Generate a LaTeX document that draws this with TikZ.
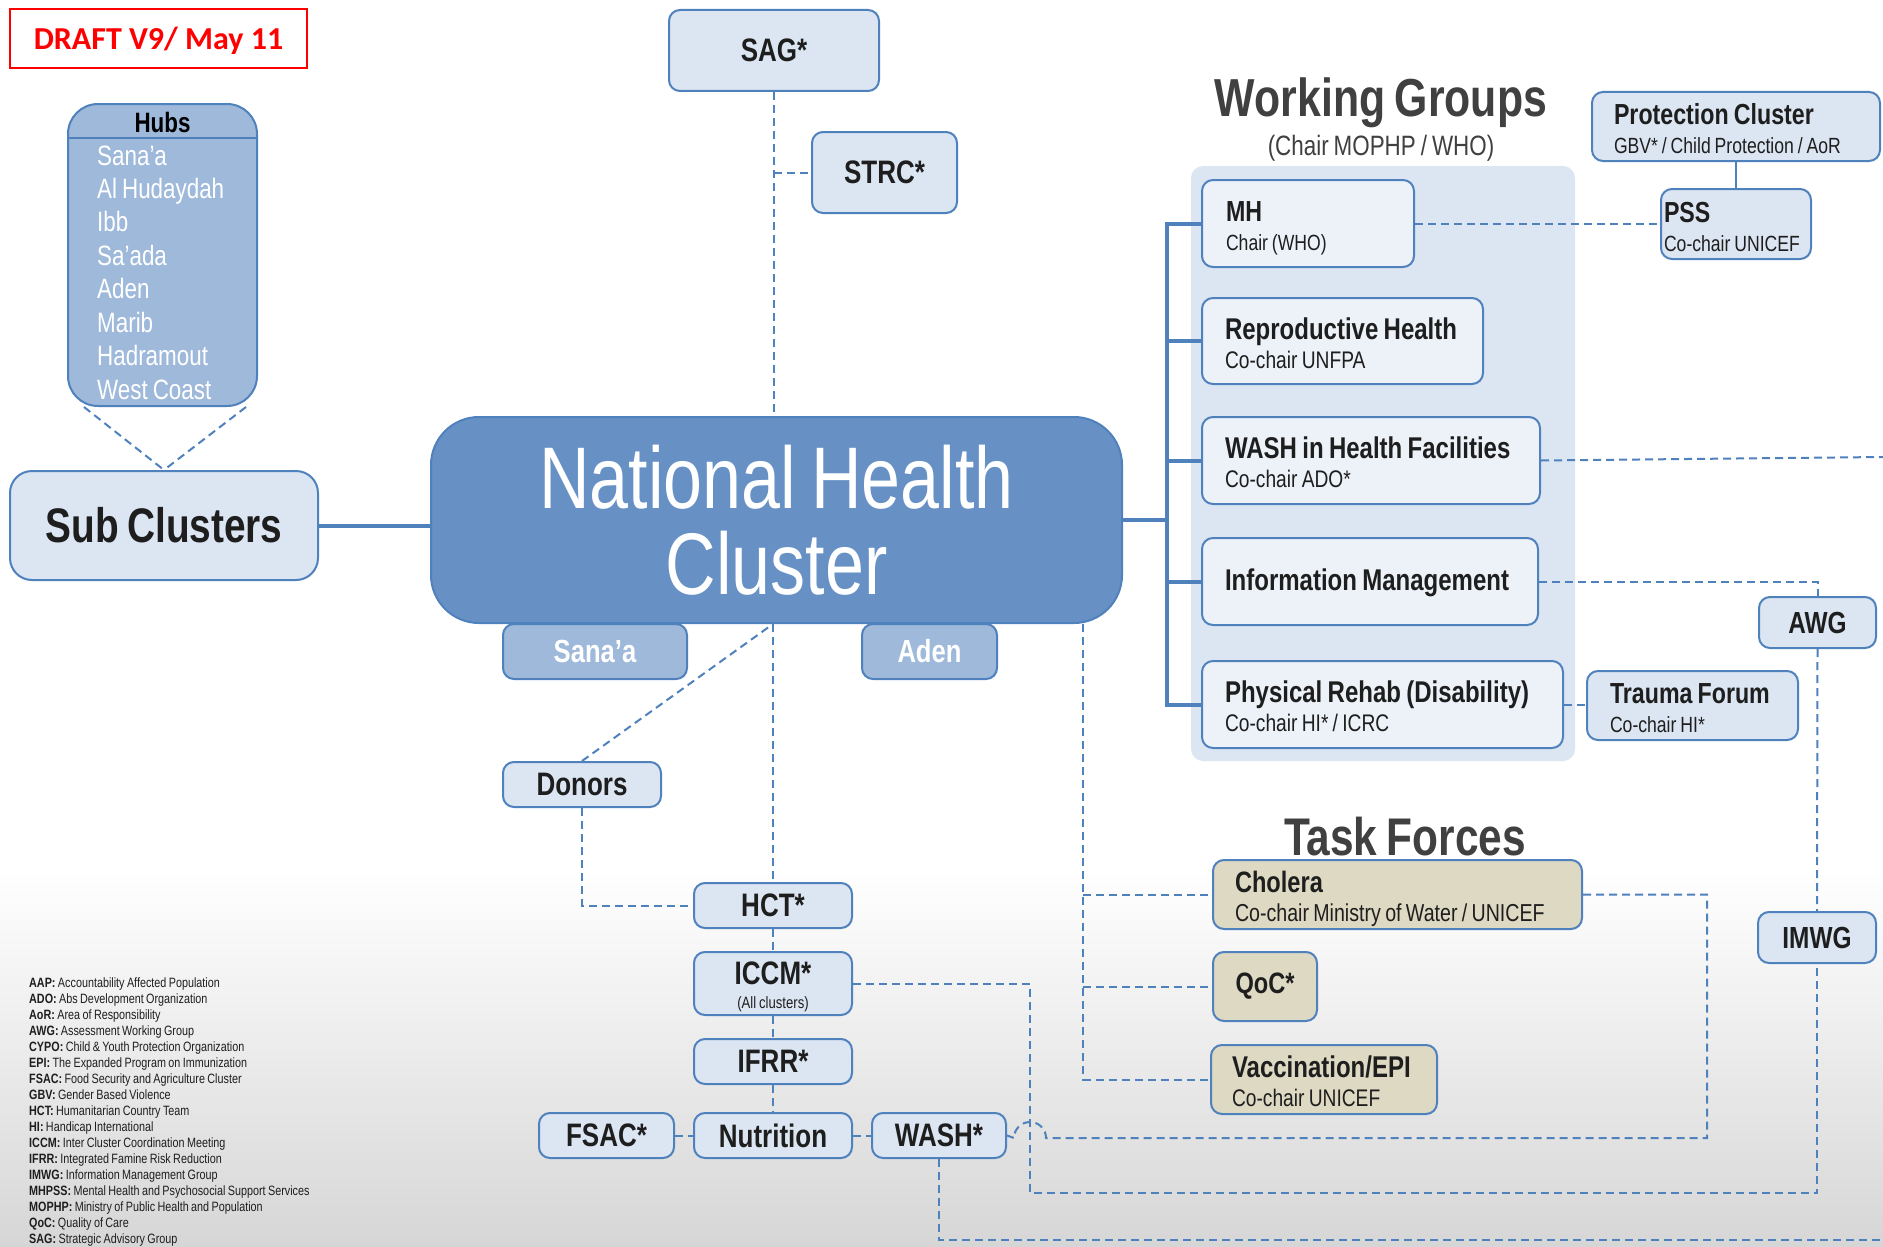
\documentclass[tikz,border=0pt]{standalone}
\usepackage{fontspec}
\setmainfont{Liberation Sans}[FakeStretch=0.8,WordSpace=0.8]
\newfontfamily\draftfont{Carlito}
\pgfdeclarelayer{back}
\pgfdeclarelayer{lines}
\pgfsetlayers{back,lines,main}
\definecolor{bordc}{HTML}{4F81BD}
\definecolor{lightf}{HTML}{DCE6F2}
\definecolor{panelc}{HTML}{DCE6F2}
\definecolor{wgbox}{HTML}{EDF2F9}
\definecolor{nhcf}{HTML}{6791C5}
\definecolor{midf}{HTML}{9FB9DB}
\definecolor{tanf}{HTML}{DDD9C3}
\definecolor{txt}{HTML}{1E1E1E}
\definecolor{ttl}{HTML}{404040}
\definecolor{graybot}{HTML}{D6D6D6}
\definecolor{draftred}{HTML}{FF0000}
\newcommand\nsp{\spaceskip=0pt\xspaceskip=0pt\relax}
\newcommand\two[4]{\mbox{\nsp\rule{0pt}{31.4pt}\fontsize{#1}{29}\selectfont\bfseries #3}\\\mbox{\nsp\rule[-6pt]{0pt}{6pt}\fontsize{#2}{29}\selectfont #4}}
\begin{document}
\begin{tikzpicture}[x=1pt,y=-1pt,
  box/.style={draw=bordc, line width=2pt, rounded corners=11pt, fill=lightf, inner sep=0pt, text=txt},
  wgb/.style={box, fill=wgbox, align=left},
  tfb/.style={box, fill=tanf, align=left},
  dl/.style={draw=bordc, line width=2pt, dash pattern=on 8pt off 5pt},
  sl/.style={draw=bordc, line width=4pt, line cap=rect},
  one/.style={font=\bfseries\fontsize{32.5}{34}\selectfont},
  onesm/.style={font=\bfseries\fontsize{30.5}{32}\selectfont},
]
\useasboundingbox (0,0) rectangle (1883,1247);

\begin{pgfonlayer}{back}
\fill[white] (0,0) rectangle (1883,1247);
\shade[top color=white, bottom color=graybot] (0,870) rectangle (1883,1247);
\node[fill=panelc, rounded corners=12pt, minimum width=384pt, minimum height=595pt, inner sep=0pt] (wgp) at (1383,463.5) {};
\end{pgfonlayer}

% ---------- left side ----------
\node[draw=draftred, line width=1.8pt, minimum width=297pt, minimum height=59pt, inner sep=0pt, text=draftred, text depth=0pt,
      font=\draftfont\bfseries\fontsize{32}{34}\selectfont] (draft) at (158.5,38.5) {DRAFT V9/ May 11};

\node[box, fill=midf, minimum width=189pt, minimum height=302pt, rounded corners=30pt] (hubs) at (162.5,255) {};
\draw[bordc, line width=1.5pt] (68,138) -- (258,138);
\node[inner sep=0pt, text=black, font=\bfseries\fontsize{28}{30}\selectfont] (hubst) at (162.5,122) {Hubs};
\foreach \t [count=\i] in {Sana’a, Al Hudaydah, Ibb, Sa’ada, Aden, Marib, Hadramout, West Coast}
  \node[anchor=base west, inner sep=0pt, text=white, font=\fontsize{28}{30}\selectfont] (hub\i) at (97,{165+33.43*(\i-1)}) {\t};

\node[box, minimum width=308pt, minimum height=109pt, rounded corners=22pt,
      font=\bfseries\fontsize{48.5}{50}\selectfont] (sub) at (164,525.5) {Sub Clusters};

% ---------- centre ----------
\node[box, minimum width=210pt, minimum height=81pt, one] (sag) at (774,50.5) {SAG*};
\node[box, minimum width=145pt, minimum height=81pt, one] (strc) at (884.5,172.5) {STRC*};

\node[box, fill=midf, minimum width=184pt, minimum height=55pt, text=white, font=\bfseries\fontsize{32}{34}\selectfont] (sanaa) at (595,651.5) {Sana’a};
\node[box, fill=midf, minimum width=135pt, minimum height=55pt, text=white, font=\bfseries\fontsize{32}{34}\selectfont] (aden) at (929.5,651.5) {Aden};

\node[box, fill=nhcf, minimum width=691pt, minimum height=206pt, rounded corners=48pt, text=white, align=center,
      font=\fontsize{87.5}{86}\selectfont] (nhc) at (776.5,520) {National Health\\Cluster};

\node[box, minimum width=158pt, minimum height=45pt, one] (donors) at (582,784.5) {Donors};
\node[box, minimum width=158pt, minimum height=45pt, one] (hct) at (773,905.5) {HCT*};
\node[box, minimum width=158pt, minimum height=63pt, align=center, font=\fontsize{16.4}{24}\selectfont] (iccm) at (773,983.5)
  {\mbox{\rule{0pt}{29pt}\bfseries\fontsize{32.5}{24}\selectfont ICCM*}\\(All clusters)};
\node[box, minimum width=158pt, minimum height=45pt, one] (ifrr) at (773,1061.5) {IFRR*};
\node[box, minimum width=158pt, minimum height=45pt, one] (nutr) at (773,1135.5) {Nutrition};
\node[box, minimum width=135pt, minimum height=45pt, one] (fsac) at (606.5,1135.5) {FSAC*};
\node[box, minimum width=134pt, minimum height=45pt, one] (wash) at (939,1135.5) {WASH*};

% ---------- working groups ----------
\node[anchor=base, inner sep=0pt, text=ttl, font=\bfseries\fontsize{53.5}{54}\selectfont] (wgt) at (1381,117) {Working Groups};
\node[anchor=base, inner sep=0pt, text=ttl, font=\fontsize{28}{30}\selectfont] (wgs) at (1381,155) {(Chair MOPHP / WHO)};

\node[wgb, minimum width=212pt, minimum height=87pt, text width=164pt, font=\fontsize{22}{29}\selectfont] (mh) at (1308,223.5)
  {\two{29}{22}{MH}{Chair (WHO)}};
\node[wgb, minimum width=281pt, minimum height=86pt, text width=235pt, font=\fontsize{24}{29}\selectfont] (rh) at (1342.5,341)
  {\two{30}{24}{Reproductive Health}{Co-chair UNFPA}};
\node[wgb, minimum width=338pt, minimum height=87pt, text width=292pt, font=\fontsize{24}{29}\selectfont] (whf) at (1371,460.5)
  {\two{30}{24}{WASH in Health Facilities}{Co-chair ADO*}};
\node[wgb, minimum width=336pt, minimum height=87pt, text width=290pt, font=\fontsize{24}{29}\selectfont] (im) at (1370,581.5)
  {\mbox{\nsp\rule{0pt}{25pt}\bfseries\fontsize{30}{29}\selectfont Information Management}};
\node[wgb, minimum width=361pt, minimum height=87pt, text width=315pt, font=\fontsize{24}{29}\selectfont] (pr) at (1382.5,704.5)
  {\two{30}{24}{Physical Rehab (Disability)}{Co-chair HI* / ICRC}};

\node[box, align=left, minimum width=288pt, minimum height=69pt, text width=244pt, font=\fontsize{22}{29}\selectfont] (prot) at (1736,126.5)
  {\two{29}{22}{Protection Cluster}{GBV* / Child Protection / AoR}};
\node[box, align=left, minimum width=150pt, minimum height=70pt, text width=144pt, font=\fontsize{22}{29}\selectfont] (pss) at (1736,224)
  {\two{29}{22}{PSS}{Co-chair UNICEF}};
\node[box, minimum width=117pt, minimum height=51pt, onesm] (awg) at (1817.5,622.5) {AWG};
\node[box, minimum width=118pt, minimum height=51pt, onesm] (imwg) at (1817,937.5) {IMWG};
\node[box, align=left, minimum width=211pt, minimum height=69pt, text width=165pt, font=\fontsize{22}{29}\selectfont] (tf) at (1692.5,705.5)
  {\two{29}{22}{Trauma Forum}{Co-chair HI*}};

% ---------- task forces ----------
\node[anchor=base, inner sep=0pt, text=ttl, font=\bfseries\fontsize{53}{54}\selectfont] (tft) at (1405,855) {Task Forces};
\node[tfb, minimum width=369pt, minimum height=69pt, text width=325pt, font=\fontsize{24.5}{29}\selectfont] (cholera) at (1397.5,894.5)
  {\two{29.5}{24.5}{Cholera}{Co-chair Ministry of Water / UNICEF}};
\node[tfb, minimum width=104pt, minimum height=69pt, align=center, font=\bfseries\fontsize{29.5}{31}\selectfont] (qoc) at (1265,986.5) {QoC*};
\node[tfb, minimum width=226pt, minimum height=69pt, text width=184pt, font=\fontsize{24}{29}\selectfont] (vacc) at (1324,1079.5)
  {\two{30}{24}{Vaccination/EPI}{Co-chair UNICEF}};

% ---------- legend ----------
\foreach \a/\b [count=\i] in {AAP/Accountability Affected Population, ADO/Abs Development Organization, AoR/Area of Responsibility,
  AWG/Assessment Working Group, CYPO/Child \& Youth Protection Organization, EPI/The Expanded Program on Immunization,
  FSAC/Food Security and Agriculture Cluster, GBV/Gender Based Violence, HCT/Humanitarian Country Team, HI/Handicap International,
  ICCM/Inter Cluster Coordination Meeting, IFRR/Integrated Famine Risk Reduction, IMWG/Information Management Group,
  MHPSS/Mental Health and Psychosocial Support Services, MOPHP/Ministry of Public Health and Population, QoC/Quality of Care,
  SAG/Strategic Advisory Group}
  \node[anchor=base west, inner sep=0pt, text=txt, font=\fontsize{13.5}{15}\selectfont] (leg\i) at (29,{987+16*(\i-1)}) {\textbf{\a:} \b};

% ---------- connectors ----------
\coordinate (barx) at (1167,0);
\coordinate (tfx) at (1083,0);
\coordinate (edgeA) at (1883,457);
\coordinate (jA) at (1030,1193);
\coordinate (jB) at (1707,1138);
\coordinate (jC) at (1046,1138);
\coordinate (edgeB) at (1883,1240);
\begin{pgfonlayer}{lines}
\draw[dl] ([xshift=17pt]hubs.south west) -- (sub.north);
\draw[dl] ([xshift=-12pt]hubs.south east) -- (sub.north);
\draw[sl] (sub.east) -- (sub.east -| nhc.west);
\draw[sl] (nhc.east) -- (nhc.east -| barx);
\draw[sl] (barx |- mh.west) -- (barx |- pr.west);
\foreach \n in {mh,rh,whf,im,pr} \draw[sl] (barx |- \n.west) -- (\n.west);

\draw[dl] (sag.south) -- (sag.south |- nhc.north);
\draw[dl] (sag.south |- strc.west) -- (strc.west);
\draw[dl] (hct.north |- nhc.south) -- (hct.north);
\draw[dl] (donors.north) -- (hct.north |- nhc.south);
\draw[dl] (donors.south) |- (hct.west);
\draw[dl] (hct.south) -- (iccm.north);
\draw[dl] (iccm.south) -- (ifrr.north);
\draw[dl] (ifrr.south) -- (nutr.north);
\draw[dl] (fsac.east) -- (nutr.west);
\draw[dl] (nutr.east) -- (wash.west);

\draw[dl] (tfx |- nhc.south) |- (vacc.west);
\draw[dl] (tfx |- cholera.west) -- (cholera.west);
\draw[dl] (tfx |- qoc.west) -- (qoc.west);

\draw[dl] (mh.east) -- (mh.east -| pss.west);
\draw[bordc, line width=2pt] (prot.south) -- (pss.north);
\draw[dl] (whf.east) -- (edgeA);
\draw[dl] (im.east) -| (awg.north);
\draw[dl] (awg.south) -- (imwg.north);
\draw[dl] (pr.east) -- (pr.east -| tf.west);
\draw[dl] (iccm.east) -| (jA) -| (imwg.south);
\draw[dl] (cholera.east) -| (jB) -- (jC) arc[start angle=0, end angle=180, radius=16pt] -- (wash.east);
\draw[dl] (wash.south) |- (edgeB);
\end{pgfonlayer}
\end{tikzpicture}
\end{document}
